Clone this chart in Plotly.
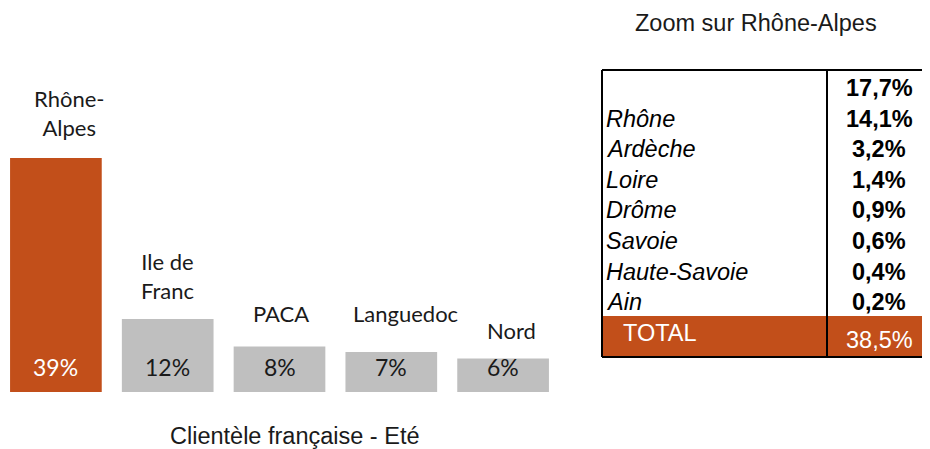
import plotly.graph_objects as go

# ---- data ----
regions = ["Rhône-Alpes", "Ile de Franc", "PACA", "Languedoc", "Nord"]
region_labels = ["Rhône-<br>Alpes", "Ile de<br>Franc", "PACA", "Languedoc", "Nord"]
shares = [38.5, 12.0, 7.5, 6.6, 5.5]
share_labels = ["39%", "12%", "8%", "7%", "6%"]

dept_names = ["", "Rhône", "Ardèche", "Loire", "Drôme", "Savoie", "Haute-Savoie", "Ain"]
dept_values = ["17,7%", "14,1%", "3,2%", "1,4%", "0,9%", "0,6%", "0,4%", "0,2%"]
total_label = "TOTAL"
total_value = "38,5%"

chart_title = "Clientèle française - Eté"
table_title = "Zoom sur Rhône-Alpes"

# ---- style ----
OFF = 8  # page body margin
W, H = 930 - OFF, 449 - OFF
ORANGE = "#C24F1A"
GREY = "#BFBFBF"
bar_colors = [ORANGE, GREY, GREY, GREY, GREY]
val_colors = ["white", "#1a1a1a", "#1a1a1a", "#1a1a1a", "#1a1a1a"]
label_xshift = [13, 0, 1, 14, 8]
label_yshift = [15, 13, 17, 23, 13]
BARFONT = "Lato, Calibri, Carlito, sans-serif"
ARIAL = "Arial, Liberation Sans, sans-serif"

def px(x):
    return (x - OFF) / W

def py(y):
    return 1 - (y - OFF) / H

fig = go.Figure()
fig.add_trace(go.Bar(
    x=regions, y=shares, marker=dict(color=bar_colors, line=dict(width=0)),
    hoverinfo="skip", showlegend=False,
))

ann = []
for i, r in enumerate(regions):
    ann.append(dict(x=r, y=shares[i], xref="x", yref="y", text=region_labels[i],
                    showarrow=False, yanchor="bottom", xshift=label_xshift[i], yshift=label_yshift[i],
                    font=dict(family=BARFONT, size=22, color="#1a1a1a")))
    ann.append(dict(x=r, y=0, xref="x", yref="y", text=share_labels[i],
                    showarrow=False, yanchor="middle", yshift=25,
                    font=dict(family=BARFONT, size=23, color=val_colors[i])))

ann.append(dict(x=px(294), y=py(436), xref="paper", yref="paper", text=chart_title,
                showarrow=False, xanchor="center", yanchor="middle",
                font=dict(family=ARIAL, size=23.5, color="#1a1a1a")))
ann.append(dict(x=px(756), y=py(23), xref="paper", yref="paper", text=table_title,
                showarrow=False, xanchor="center", yanchor="middle",
                font=dict(family=ARIAL, size=23.5, color="#1a1a1a")))

# table rows
row_y0, row_dy = 88, 30.6
TF = 23.5
for i, (n, v) in enumerate(zip(dept_names, dept_values)):
    yy = row_y0 + i * row_dy
    if n:
        ann.append(dict(x=px(604), y=py(yy), xref="paper", yref="paper", text=f"<i>{n}</i>",
                        showarrow=False, xanchor="left", yanchor="middle",
                        font=dict(family=ARIAL, size=TF, color="black")))
    ann.append(dict(x=px(879), y=py(yy), xref="paper", yref="paper", text=f"<b>{v}</b>",
                    showarrow=False, xanchor="center", yanchor="middle",
                    font=dict(family=ARIAL, size=TF, color="black")))
ann.append(dict(x=px(660), y=py(333), xref="paper", yref="paper", text=total_label,
                showarrow=False, xanchor="center", yanchor="middle",
                font=dict(family=ARIAL, size=TF, color="white")))
ann.append(dict(x=px(879), y=py(340), xref="paper", yref="paper", text=total_value,
                showarrow=False, xanchor="center", yanchor="middle",
                font=dict(family=ARIAL, size=TF, color="white")))

shapes = [
    dict(type="rect", xref="paper", yref="paper", x0=px(602), x1=px(931), y0=py(356), y1=py(316),
         fillcolor=ORANGE, line=dict(width=0), layer="below"),
    dict(type="line", xref="paper", yref="paper", x0=px(602), x1=px(931), y0=py(70), y1=py(70),
         line=dict(color="black", width=2)),
    dict(type="line", xref="paper", yref="paper", x0=px(602), x1=px(931), y0=py(357), y1=py(357),
         line=dict(color="black", width=2)),
    dict(type="line", xref="paper", yref="paper", x0=px(602), x1=px(602), y0=py(70), y1=py(357),
         line=dict(color="black", width=2)),
    dict(type="line", xref="paper", yref="paper", x0=px(827), x1=px(827), y0=py(70), y1=py(357),
         line=dict(color="black", width=2)),
]

px_per_unit = 234 / 38.5
ymax = (392 - OFF) / px_per_unit
slot = 559 / len(regions)  # screen px per category
fig.update_layout(
    width=W, height=H, margin=dict(l=0, r=0, t=0, b=0),
    paper_bgcolor="white", plot_bgcolor="white",
    bargap=0.18,
    xaxis=dict(domain=[0, px(559)], visible=False, range=[-0.5 + OFF / slot, len(regions) - 0.5]),
    yaxis=dict(domain=[py(392), 1], visible=False, range=[0, ymax]),
    annotations=ann, shapes=shapes,
)

fig.write_html("out.html")
